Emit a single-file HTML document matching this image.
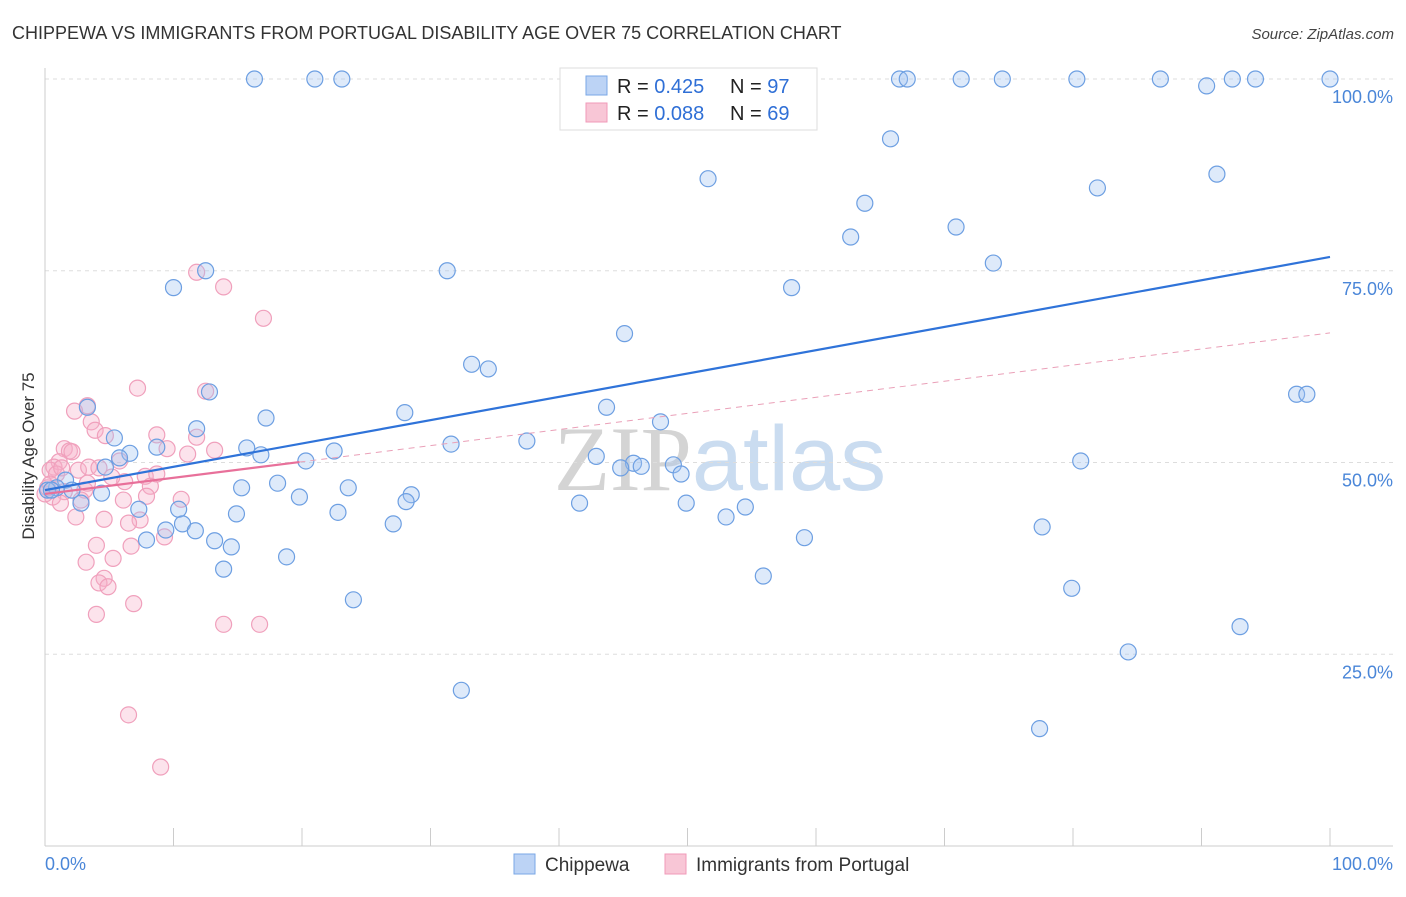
<!DOCTYPE html>
<html><head><meta charset="utf-8">
<style>
body{margin:0;background:#fff;font-family:"Liberation Sans",sans-serif;}
svg text{font-family:"Liberation Sans",sans-serif;}
</style></head>
<body>
<svg id="chart" width="1406" height="892" xmlns="http://www.w3.org/2000/svg">
<text x="12" y="39" font-size="18" fill="#333">CHIPPEWA VS IMMIGRANTS FROM PORTUGAL DISABILITY AGE OVER 75 CORRELATION CHART</text>
<text x="1394" y="39" font-size="15" fill="#444" text-anchor="end" font-style="italic">Source: ZipAtlas.com</text>
<text x="720" y="490" font-size="92" text-anchor="middle" fill="#d8d8d8"><tspan font-family="Liberation Serif" fill="#d4d4d4">ZIP</tspan><tspan fill="#cadcf0">atlas</tspan></text>
<g id="grid"></g>
<g id="axes"></g>
<g id="pts"></g>
<g id="lines"></g>
<text transform="translate(34,456) rotate(-90)" font-size="17" fill="#333" text-anchor="middle">Disability Age Over 75</text>
<text x="45" y="870" font-size="18" fill="#4a86d8">0.0%</text>
<text x="1393" y="870" font-size="18" fill="#4a86d8" text-anchor="end">100.0%</text>
<g>
<rect x="560" y="68" width="257" height="62" fill="#fff" stroke="#ddd"/>
<rect x="586" y="76" width="21" height="19" fill="#bcd3f5" stroke="#7aa7e6"/>
<rect x="586" y="103" width="21" height="19" fill="#f8c6d6" stroke="#f09ab8"/>
<text x="617" y="93" font-size="20" fill="#222">R = <tspan fill="#2f6fd6">0.425</tspan></text>
<text x="730" y="93" font-size="20" fill="#222">N = <tspan fill="#2f6fd6">97</tspan></text>
<text x="617" y="120" font-size="20" fill="#222">R = <tspan fill="#2f6fd6">0.088</tspan></text>
<text x="730" y="120" font-size="20" fill="#222">N = <tspan fill="#2f6fd6">69</tspan></text>
</g>
<g>
<rect x="514" y="854" width="21" height="20" fill="#bcd3f5" stroke="#7aa7e6"/>
<text x="545" y="871" font-size="19" fill="#333">Chippewa</text>
<rect x="665" y="854" width="21" height="20" fill="#f8c6d6" stroke="#f09ab8"/>
<text x="696" y="871" font-size="19" fill="#333">Immigrants from Portugal</text>
</g>
</svg>
<script>
const blueX=[16.3,21.0,23.1,66.5,67.1,71.3,74.5,80.3,86.8,90.4,92.4,94.2,100,65.8,51.6,81.9,91.2,63.8,62.7,70.9,73.8,58.1,10.0,12.5,31.3,45.1,33.2,34.5,12.8,3.3,17.2,28.0,43.7,47.9,97.4,98.2,11.8,5.4,6.6,8.7,15.7,16.8,22.5,31.6,37.5,42.9,20.3,5.8,4.7,45.8,44.8,46.4,48.9,49.5,80.6,18.1,23.6,15.3,1.6,0.9,2.1,4.4,19.8,28.5,28.1,41.6,49.9,2.8,7.3,10.4,14.9,22.8,54.5,53.0,27.1,10.7,9.4,11.7,13.2,14.5,7.9,59.1,77.6,18.8,13.9,55.9,79.9,24.0,93.0,84.3,32.4,77.4,0.2,0.5];
const blueY=[100,100,100,100,100,100,100,100,100,99.1,100,100,100,92.2,87.0,85.8,87.6,83.8,79.4,80.7,76.0,72.8,72.8,75.0,75.0,66.8,62.8,62.2,59.2,57.2,55.8,56.5,57.2,55.3,58.9,58.9,54.4,53.2,51.2,52.0,51.9,51.0,51.5,52.4,52.8,50.8,50.2,50.6,49.4,49.9,49.3,49.5,49.7,48.5,50.2,47.3,46.7,46.7,47.7,46.7,46.4,46.0,45.5,45.8,44.9,44.7,44.7,44.7,43.9,43.9,43.3,43.5,44.2,42.9,42.0,42.0,41.2,41.1,39.8,39.0,39.9,40.2,41.6,37.7,36.1,35.2,33.6,32.1,28.6,25.3,20.3,15.3,46.4,46.4];
const pinkX=[11.8,13.9,17.0,7.2,12.5,3.3,2.3,3.6,3.9,4.7,8.7,11.8,1.5,1.9,2.1,9.5,11.1,13.2,5.8,1.1,0.7,0.4,2.6,3.4,4.2,0.9,1.3,7.8,8.7,6.2,8.2,1.5,3.1,5.2,3.3,0.6,1.2,2.8,6.1,10.6,7.9,2.4,4.6,7.4,6.5,9.3,4.0,6.7,5.3,3.2,4.6,4.2,4.9,6.9,4.0,13.9,16.7,6.5,9.0,0.0,0.2,0.4];
const pinkY=[74.8,72.9,68.8,59.7,59.3,57.4,56.7,55.3,54.2,53.5,53.6,53.3,51.8,51.5,51.4,51.8,51.1,51.6,50.2,50.1,49.4,49.0,49.0,49.4,49.3,48.5,49.3,48.2,48.5,47.5,46.9,46.2,46.4,48.1,47.3,45.5,44.7,45.1,45.1,45.2,45.6,42.9,42.6,42.5,42.1,40.3,39.2,39.1,37.5,37.0,34.9,34.3,33.8,31.6,30.2,28.9,28.9,17.1,10.3,45.9,46.7,47.2];
const blueTrend=[46.4,76.8];
const pinkTrend=[45.9,66.9];
const pinkSolidEnd=[19.8];
const yTicks=[25,50,75,100];
const yTickLabels=["25.0%","50.0%","75.0%","100.0%"];
const xTicks=[0,10,20,30,40,50,60,70,80,90,100];

const NS="http://www.w3.org/2000/svg";
const X=v=>45+v*12.85, Y=v=>846-v*7.67;
function mk(t,a,p){const e=document.createElementNS(NS,t);for(const k in a)e.setAttribute(k,a[k]);p.appendChild(e);return e;}
const grid=document.getElementById('grid'),axes=document.getElementById('axes'),pts=document.getElementById('pts'),lines=document.getElementById('lines');
yTicks.forEach((t,i)=>{
  const l=mk('line',{x1:45,x2:1393,y1:Y(t),y2:Y(t),stroke:'#ddd','stroke-dasharray':'4,4'},grid);
  
  
  const tx=mk('text',{x:1393,y:Y(t)+24,'font-size':18,fill:'#4a86d8','text-anchor':'end'},axes);
  tx.textContent=yTickLabels[i];
  
  
});
mk('line',{x1:45,x2:45,y1:68,y2:846,stroke:'#ccc'},axes);
mk('line',{x1:45,x2:1393,y1:846,y2:846,stroke:'#ccc'},axes);
xTicks.forEach(t=>{
  const l=mk('line',{x1:X(t),x2:X(t),y1:828,y2:846,stroke:'#ccc'},axes);
  
  
});
pinkX.forEach((x,i)=>{
  const c=mk('circle',{cx:X(x),cy:Y(pinkY[i]),r:8,fill:'rgba(245,175,200,0.35)',stroke:'#f0a0bc','stroke-width':1.2},pts);
  
  
});
blueX.forEach((x,i)=>{
  const c=mk('circle',{cx:X(x),cy:Y(blueY[i]),r:8,fill:'rgba(160,195,240,0.35)',stroke:'#6d9fe2','stroke-width':1.2},pts);
  
  
});
const pAt=x=>pinkTrend[0]+(pinkTrend[1]-pinkTrend[0])*x/100;
const bl=mk('line',{x1:X(0),y1:Y(blueTrend[0]),x2:X(100),y2:Y(blueTrend[1]),stroke:'#2f73d9','stroke-width':2.2},lines);


const pd=mk('line',{x1:X(pinkSolidEnd[0]),y1:Y(pAt(pinkSolidEnd[0])),x2:X(100),y2:Y(pinkTrend[1]),stroke:'#eaa0b8','stroke-width':1,'stroke-dasharray':'6,5'},lines);


const ps=mk('line',{x1:X(0),y1:Y(pinkTrend[0]),x2:X(pinkSolidEnd[0]),y2:Y(pAt(pinkSolidEnd[0])),stroke:'#e8709a','stroke-width':2.2},lines);


</script>
</body></html>
